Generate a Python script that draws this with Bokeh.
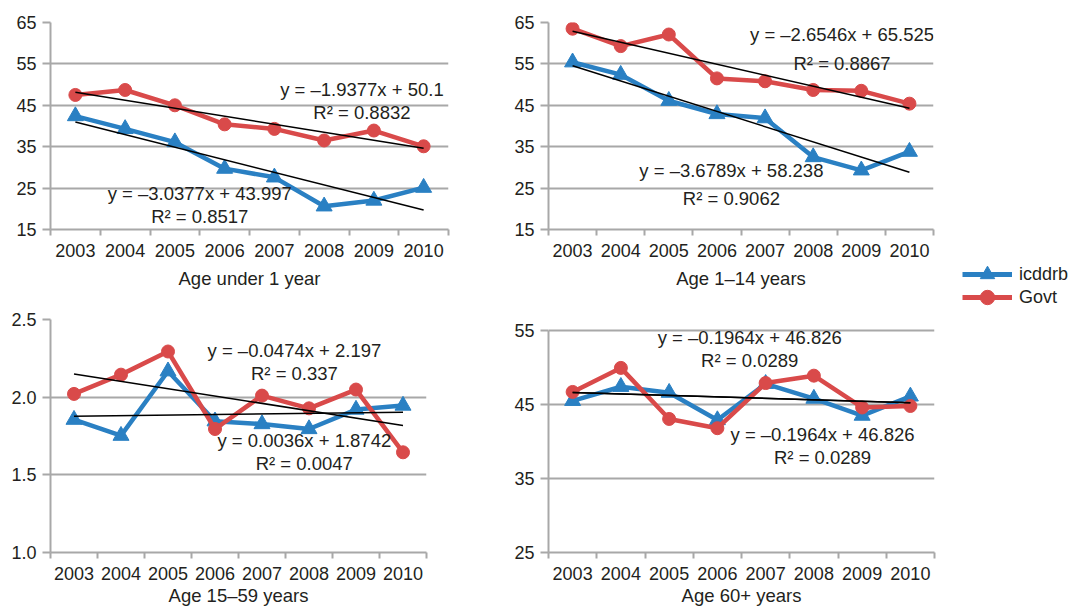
from bokeh.plotting import figure
from bokeh.layouts import row, column
from bokeh.models import FixedTicker, Label, Legend, LegendItem, NumeralTickFormatter
from bokeh.embed import file_html
from bokeh.resources import INLINE
import numpy as np

# ---------------- data ----------------
years = ["2003", "2004", "2005", "2006", "2007", "2008", "2009", "2010"]
titles = ["Age under 1 year", "Age 1\u201314 years", "Age 15\u201359 years", "Age 60+ years"]
series_names = ["icddrb", "Govt"]

icddrb_u1 = [42.4, 39.3, 36.1, 29.7, 27.6, 20.6, 22.0, 25.1]
govt_u1 = [47.5, 48.7, 45.0, 40.4, 39.3, 36.5, 38.9, 35.1]
icddrb_1_14 = [55.4, 52.4, 46.1, 42.9, 41.9, 32.5, 29.3, 33.8]
govt_1_14 = [63.5, 59.3, 62.1, 51.5, 50.8, 48.7, 48.5, 45.4]
icddrb_15_59 = [1.855, 1.752, 2.167, 1.845, 1.827, 1.795, 1.920, 1.946]
govt_15_59 = [2.021, 2.145, 2.294, 1.795, 2.010, 1.928, 2.049, 1.645]
icddrb_60 = [45.5, 47.4, 46.6, 42.9, 47.8, 45.8, 43.5, 46.1]
govt_60 = [46.7, 49.95, 43.05, 41.8, 47.9, 48.9, 44.6, 44.8]

# trend lines as printed on the chart: slope, intercept, R²
icddrb_slope = [-3.0377, -3.6789, 0.0036, -0.1964]
icddrb_icpt = [43.997, 58.238, 1.8742, 46.826]
icddrb_r2 = ["0.8517", "0.9062", "0.0047", "0.0289"]
govt_slope = [-1.9377, -2.6546, -0.0474, -0.1964]
govt_icpt = [50.1, 65.525, 2.197, 46.826]
govt_r2 = ["0.8832", "0.8867", "0.337", "0.0289"]

y_ticks = [[15, 25, 35, 45, 55, 65], [15, 25, 35, 45, 55, 65],
           [1.0, 1.5, 2.0, 2.5], [25, 35, 45, 55]]

# ---------------- style ----------------
BLUE = "#2a80c3"
RED = "#d94a4a"
GRID = "#a8a8a8"
TXT = "#231f20"
FONT = "Liberation Sans"

xs = list(range(1, len(years) + 1))
bounds = [x - 0.5 for x in xs] + [xs[-1] + 0.5]


def eq_text(s, b):
    sign = "\u2013" if s < 0 else ""
    return f"y = {sign}{abs(s)}x + {b}"


def make_panel(i, icd, gov, fw, fh, bl, br, bt, bb, fmt, label_pos, ytop, title_standoff):
    yt = y_ticks[i]
    p = figure(frame_width=fw, frame_height=fh, min_border_left=bl, min_border_right=br,
               min_border_top=bt, min_border_bottom=bb, x_range=(0.5, len(years) + 0.5),
               y_range=(yt[0], ytop), toolbar_location=None, output_backend="svg",
               outline_line_color=None)
    xt = FixedTicker(ticks=xs, minor_ticks=bounds)
    p.xaxis.ticker = xt
    p.xaxis.major_label_overrides = {x: y for x, y in zip(xs, years)}
    p.xaxis.major_tick_out = 0
    p.xaxis.major_tick_in = 0
    p.xaxis.major_tick_line_color = None
    p.xaxis.minor_tick_out = 6
    p.xaxis.minor_tick_in = 0
    p.xaxis.minor_tick_line_color = GRID
    p.xaxis.minor_tick_line_width = 2
    p.xaxis.major_label_standoff = 8
    p.xaxis.axis_label = titles[i]
    p.xaxis.axis_label_standoff = title_standoff
    p.xaxis.axis_label_text_font_style = "normal"
    p.xaxis.axis_label_text_font_size = "18.5px"
    p.xaxis.axis_label_text_font = FONT
    p.xaxis.axis_label_text_color = TXT

    yk = FixedTicker(ticks=yt, minor_ticks=[])
    p.yaxis.ticker = yk
    p.yaxis.bounds = (yt[0], yt[-1])
    p.ygrid.ticker = yk
    p.yaxis.formatter = NumeralTickFormatter(format=fmt)
    p.yaxis.major_tick_out = 8
    p.yaxis.major_tick_in = 0
    p.yaxis.major_tick_line_color = GRID
    p.yaxis.major_tick_line_width = 2
    p.yaxis.minor_tick_line_color = None
    p.yaxis.major_label_standoff = 6

    for ax in (p.xaxis, p.yaxis):
        ax.axis_line_color = GRID
        ax.axis_line_width = 2
        ax.major_label_text_font = FONT
        ax.major_label_text_font_size = "18px"
        ax.major_label_text_color = TXT

    p.xgrid.visible = False
    p.ygrid.grid_line_color = GRID
    p.ygrid.grid_line_width = 2

    p.line(xs, icd, line_color=BLUE, line_width=4.5)
    p.scatter(xs, icd, marker="triangle", size=16, color=BLUE)
    p.line(xs, gov, line_color=RED, line_width=4.5)
    p.scatter(xs, gov, marker="circle", size=13, color=RED)

    xa = np.array([xs[0], xs[-1]], dtype=float)
    p.line(xa, icddrb_slope[i] * xa + icddrb_icpt[i], line_color="black", line_width=1.5)
    p.line(xa, govt_slope[i] * xa + govt_icpt[i], line_color="black", line_width=1.5)

    texts = [eq_text(govt_slope[i], govt_icpt[i]), "R\u00b2 = " + govt_r2[i],
             eq_text(icddrb_slope[i], icddrb_icpt[i]), "R\u00b2 = " + icddrb_r2[i]]
    for t, (lx, ly) in zip(texts, label_pos):
        p.add_layout(Label(x=lx, y=ly, text=t, text_align="center", text_baseline="middle",
                           text_font=FONT, text_font_size="18.5px", text_color=TXT))
    return p


p1 = make_panel(0, icddrb_u1, govt_u1, 398, 207, 50, 52, 22, 71, "0",
                [(6.76, 48.8), (6.76, 43.3), (3.5, 23.7), (3.5, 18.1)], 65, 8)
p2 = make_panel(1, icddrb_1_14, govt_1_14, 385, 207, 48, 12, 22, 71, "0",
                [(6.6, 62.1), (6.6, 55.1), (4.3, 29.2), (4.3, 22.5)], 65, 8)
p3 = make_panel(2, icddrb_15_59, govt_15_59, 376, 233, 50, 74, 19, 56, "0.0",
                [(5.69, 2.30), (5.69, 2.152), (5.9, 1.721), (5.9, 1.573)], 2.5, 2)
p4 = make_panel(3, icddrb_60, govt_60, 386, 233, 48, 11, 19, 56, "0",
                [(4.67, 54.05), (4.67, 50.95), (6.18, 40.95), (6.18, 37.84)], 56.49, 2)

# legend panel (series drawn outside the visible range; only the legend shows)
leg = figure(width=124, height=608, toolbar_location=None, output_backend="svg",
             x_range=(100, 101), y_range=(100, 101), x_axis_location=None,
             y_axis_location=None, min_border=0, outline_line_color=None)
leg.grid.visible = False
lb = leg.line(xs, icddrb_u1, line_color=BLUE, line_width=5)
mb = leg.scatter(xs, icddrb_u1, marker="triangle", size=16, color=BLUE)
lr = leg.line(xs, govt_u1, line_color=RED, line_width=5)
mr = leg.scatter(xs, govt_u1, marker="circle", size=13, color=RED)
for name, rends, ly in zip(series_names, [[lb, mb], [lr, mr]], [316, 293]):
    leg.add_layout(Legend(items=[LegendItem(label=name, renderers=rends)],
                          location=(17, ly), glyph_width=50, glyph_height=36,
                          label_height=20, label_standoff=7, spacing=0, padding=0,
                          margin=0, border_line_color=None, background_fill_alpha=0,
                          label_text_font=FONT, label_text_font_size="18px",
                          label_text_color=TXT))

layout = row(column(row(p1, p2), row(p3, p4)), leg)

open("out.html", "w").write(file_html(layout, INLINE))
